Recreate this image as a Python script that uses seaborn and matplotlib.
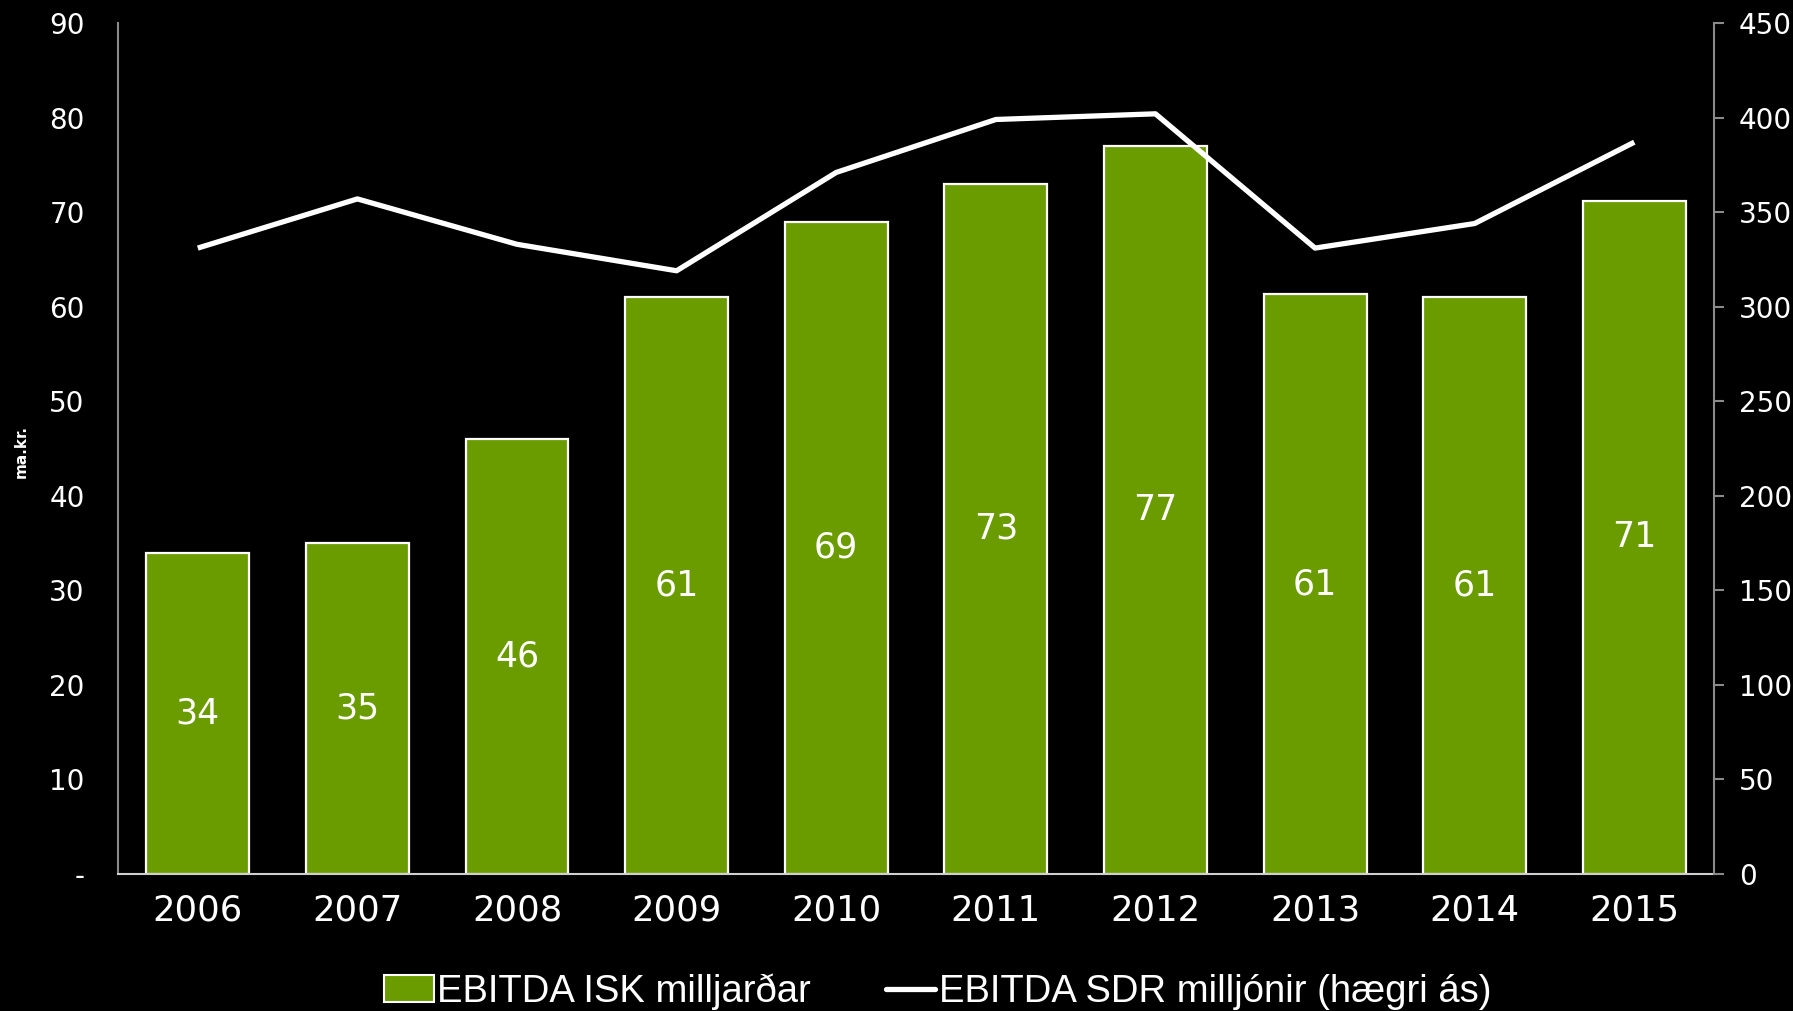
import matplotlib
matplotlib.use("Agg")
import matplotlib.pyplot as plt
import seaborn as sns
import pandas as pd
from matplotlib.patches import Patch
from matplotlib.lines import Line2D

years = ["2006", "2007", "2008", "2009", "2010", "2011", "2012", "2013", "2014", "2015"]
isk_bn = [34.0, 35.0, 46.0, 61.0, 69.0, 73.0, 77.0, 61.3, 61.0, 71.2]
sdr_mn = [331, 357, 333, 319, 371, 399, 402, 331, 344, 387]
left_ticks = [0, 10, 20, 30, 40, 50, 60, 70, 80, 90]
left_labels = ["-", "10", "20", "30", "40", "50", "60", "70", "80", "90"]
right_ticks = [0, 50, 100, 150, 200, 250, 300, 350, 400, 450]
legend_labels = ["EBITDA ISK milljarðar", "EBITDA SDR milljónir (hægri ás)"]

df = pd.DataFrame({"year": years, "isk": isk_bn, "sdr": sdr_mn})

sns.set_style("dark")
plt.rcParams["font.family"] = ["DejaVu Sans"]

fig = plt.figure(figsize=(17.93, 10.11), dpi=100, facecolor="black")
ax = fig.add_axes([0.0658, 0.1355, 0.8902, 0.8417])
ax.set_facecolor("black")

green = "#6a9c00"
sns.barplot(data=df, x="year", y="isk", order=years, color=green, width=0.645,
            edgecolor="white", linewidth=1.6, saturation=1, ax=ax, zorder=2)
ax.set_xlim(-0.5, 9.5)
ax.set_ylim(0, 90)
ax.set_yticks(left_ticks)
ax.set_yticklabels(left_labels)
ax.tick_params(axis="y", length=0, colors="white", labelsize=20, pad=24)
ax.tick_params(axis="x", length=0, colors="white", labelsize=25.5, pad=14)
ax.set_xlabel("")
ax.set_ylabel("ma.kr.", color="white", fontsize=11, fontweight="bold")
ax.yaxis.set_label_coords(-0.0557, 0.496)
ax.grid(False)
for s in ["top", "right"]:
    ax.spines[s].set_visible(False)
ax.spines["left"].set_color("#8a8a8a")
ax.spines["left"].set_linewidth(1.5)
ax.spines["bottom"].set_color("#cfcfcf")
ax.spines["bottom"].set_linewidth(1.5)

for i, v in enumerate(isk_bn):
    ax.text(i, v / 2, f"{v:.0f}", ha="center", va="center", color="white", fontsize=25, zorder=5)

ax2 = ax.twinx()
sns.lineplot(data=df, x="year", y="sdr", sort=False, color="white", linewidth=3.8, ax=ax2,
             solid_capstyle="butt")
ax2.set_ylim(0, 450)
ax2.set_yticks(right_ticks)
ax2.tick_params(axis="y", length=7, width=1.5, color="#8a8a8a", labelcolor="white",
                labelsize=20, pad=11)
ax2.set_ylabel("")
ax2.set_xlabel("")
ax2.grid(False)
ax2.set_facecolor("none")
for s in ["top", "left", "bottom"]:
    ax2.spines[s].set_visible(False)
ax2.spines["right"].set_color("#8a8a8a")
ax2.spines["right"].set_linewidth(1.5)

handles = [Patch(facecolor=green, edgecolor="white", linewidth=1.5),
           Line2D([0], [0], color="white", linewidth=3.8)]
fig.legend(handles, legend_labels, loc="center", bbox_to_anchor=(0.523, 0.019), ncol=2,
           frameon=False, prop={"family": "Liberation Sans", "size": 27.5},
           labelcolor="white", handlelength=1.3, handletextpad=0.1, columnspacing=1.95)

fig.savefig("out.png", dpi=100, facecolor="black")
